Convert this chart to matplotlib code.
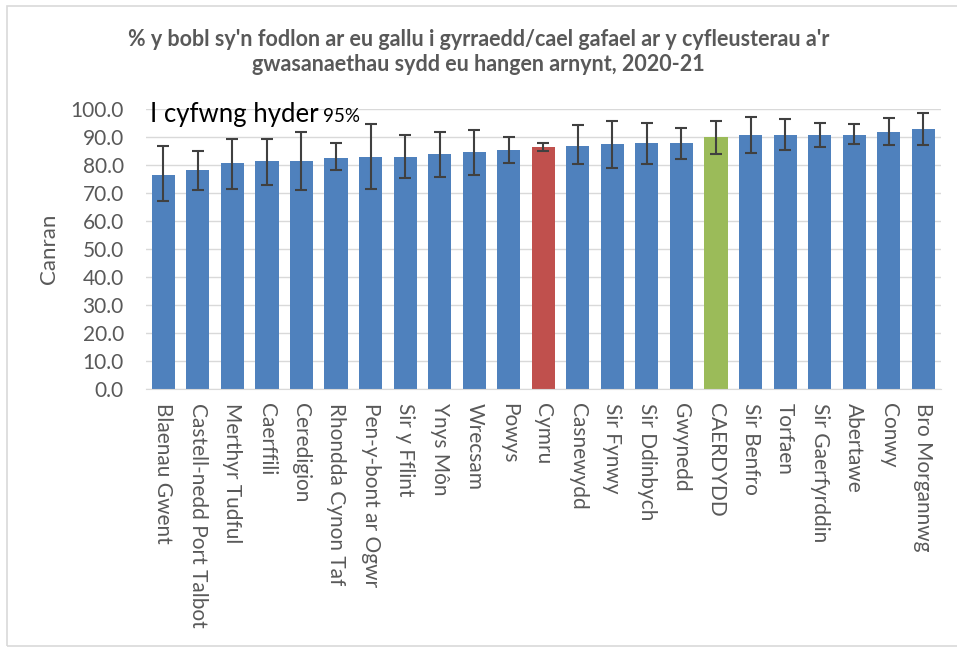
import matplotlib
matplotlib.use("Agg")
import matplotlib.pyplot as plt
from matplotlib.patches import Rectangle

plt.rcParams['font.family'] = ['Lato', 'DejaVu Sans']

areas = ["Blaenau Gwent", "Castell-nedd Port Talbot", "Merthyr Tudful", "Caerffili",
         "Ceredigion", "Rhondda Cynon Taf", "Pen-y-bont ar Ogwr", "Sir y Fflint",
         "Ynys Môn", "Wrecsam", "Powys", "Cymru", "Casnewydd", "Sir Fynwy",
         "Sir Ddinbych", "Gwynedd", "CAERDYDD", "Sir Benfro", "Torfaen",
         "Sir Gaerfyrddin", "Abertawe", "Conwy", "Bro Morgannwg"]
values = [76.5, 78.2, 80.6, 81.4, 81.4, 82.5, 83.0, 83.0, 83.8, 84.6, 85.3, 86.4,
          86.9, 87.5, 87.8, 87.8, 89.9, 90.6, 90.6, 90.6, 90.9, 91.7, 93.0]
ci_low = [67.0, 71.2, 71.4, 72.9, 71.0, 78.1, 71.4, 75.3, 75.8, 76.5, 80.7, 85.1,
          80.2, 79.0, 80.2, 82.1, 83.9, 84.3, 85.3, 86.5, 87.5, 87.0, 87.0]
ci_high = [86.7, 85.1, 89.4, 89.4, 91.9, 88.0, 94.8, 90.7, 91.9, 92.6, 89.9, 87.8,
           94.4, 95.9, 95.1, 93.4, 95.8, 97.1, 96.3, 95.1, 94.6, 96.7, 98.7]

colours = []
for a in areas:
    if a == "Cymru":
        colours.append("#C0504D")
    elif a == "CAERDYDD":
        colours.append("#9BBB59")
    else:
        colours.append("#4F81BD")

err_lo = [v - l for v, l in zip(values, ci_low)]
err_hi = [h - v for v, h in zip(values, ci_high)]

fig = plt.figure(figsize=(9.57, 6.49), dpi=100)
ax = fig.add_axes([0.1526, 0.4006, 0.8302, 0.4314])

x = range(len(areas))
ax.bar(x, values, width=0.67, color=colours, zorder=2)
ax.errorbar(x, values, yerr=[err_lo, err_hi], fmt="none", ecolor="#404040",
            elinewidth=1.5, capsize=4, capthick=1.5, zorder=3)

ax.set_xlim(-0.5, len(areas) - 0.5)
ax.set_ylim(0, 100)
ax.set_yticks(range(0, 101, 10))
ax.set_yticklabels([f"{t:.1f}" for t in range(0, 101, 10)])
ax.set_xticks(list(x))
ax.set_xticklabels(areas, rotation=-90, ha="center", va="top")
ax.tick_params(axis="both", length=0, labelsize=15, labelcolor="#595959")
ax.tick_params(axis="y", pad=16)
ax.tick_params(axis="x", pad=10)
ax.grid(axis="y", color="#D9D9D9", linewidth=1, zorder=0)
ax.set_axisbelow(True)
for s in ["left", "right", "top"]:
    ax.spines[s].set_visible(False)
ax.spines["bottom"].set_color("#D9D9D9")

ax.set_ylabel("Canran", fontsize=16, color="#595959", labelpad=8)

fig.text(0.5, 0.956, "% y bobl sy'n fodlon ar eu gallu i gyrraedd/cael gafael ar y cyfleusterau a'r\n"
         "gwasanaethau sydd eu hangen arnynt, 2020-21",
         ha="center", va="top", fontsize=15.5, fontweight="bold", color="#595959",
         linespacing=1.25)

fig.text(0.157, 0.812, "I cyfwng hyder", fontsize=18.5, color="black", va="baseline")
fig.text(0.338, 0.812, "95%", fontsize=13.5, color="black", va="baseline")

fig.patches.append(Rectangle((0.007, 0.005), 1.2, 0.986, transform=fig.transFigure,
                             fill=False, edgecolor="#D9D9D9", linewidth=1.2))

fig.savefig("out.png", dpi=100, facecolor="white")
